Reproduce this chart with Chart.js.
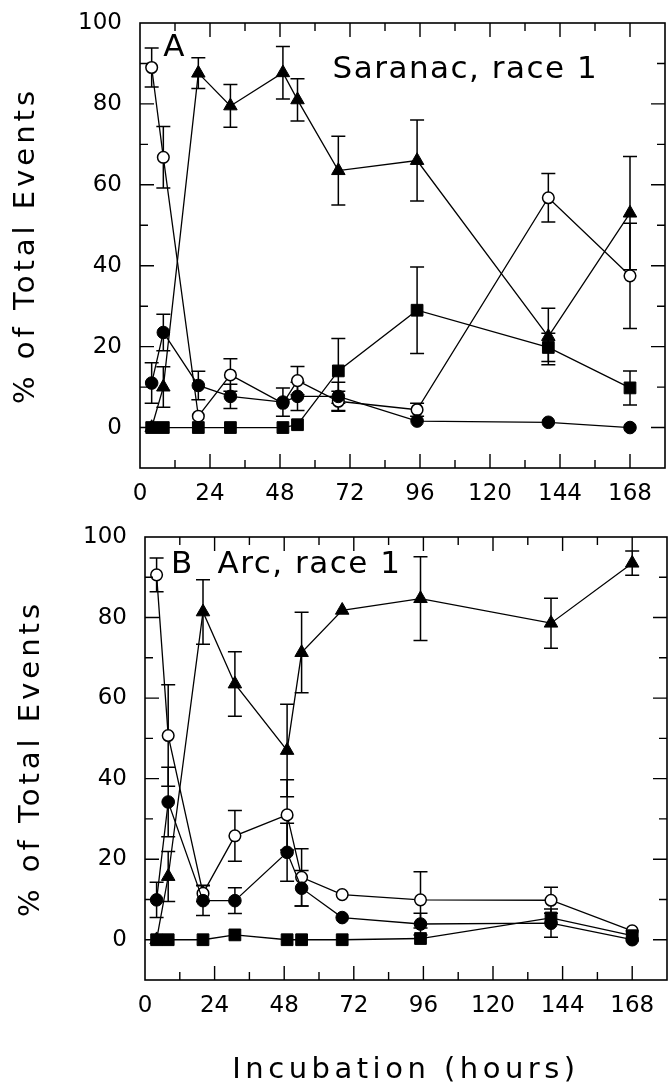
<!DOCTYPE html>
<html>
<head>
<meta charset="utf-8">
<script src="https://cdn.jsdelivr.net/npm/chart.js@4.4.1/dist/chart.umd.min.js"></script>
<style>
  body { margin: 0; background: #fff; width: 668px; height: 1088px; position: relative; overflow: hidden; }
  canvas { position: absolute; left: 0; }
  #chartA { top: 0; }
  #chartB { top: 500px; }
</style>
</head>
<body>
<canvas id="chartA" width="668" height="530"></canvas>
<canvas id="chartB" width="668" height="588"></canvas>
<script>
// sampling times (hours of incubation)
const hours = [4, 8, 20, 31, 49, 54, 68, 95, 140, 168];

// axis ticks
const xTicks = [0, 24, 48, 72, 96, 120, 144, 168];
const xMinor = [12, 36, 60, 84, 108, 132, 156];
const yTicks = [0, 20, 40, 60, 80, 100];
const yMinor = [10, 30, 50, 70, 90];

// panel A - Saranac, race 1
const openA = [89, 66.8, 2.8, 13, 6, 11.6, 6.5, 4.4, 56.8, 37.5];
const openErrA = [4.8, 7.6, 0, 4, 0, 3.5, 2.5, 1.6, 6, 13];
const filledA = [11, 23.5, 10.4, 7.7, 6.3, 7.7, 7.7, 1.6, 1.3, 0];
const filledErrA = [5, 4.5, 3.5, 3, 3.5, 3.5, 3.5, 0, 0, 0];
const triA = [0, 10, 87.6, 79.5, 87.7, 81, 63.5, 66, 22.5, 53];
const triErrA = [0, 5, 3.8, 5.3, 6.5, 5.2, 8.5, 10, 7, 14];
const squareA = [0, 0, 0, 0, 0, 0.7, 14, 29, 19.8, 9.8];
const squareErrA = [0, 0, 0, 0, 0, 0, 8, 10.7, 3.5, 4.2];

// panel B - Arc, race 1
const openB = [90.6, 50.7, 11.5, 25.8, 31, 15.5, 11.2, 9.9, 9.8, 2.2];
const openErrB = [4.2, 12.6, 2, 6.3, 8.7, 7.1, 0, 7, 3.2, 0];
const filledB = [9.9, 34.2, 9.7, 9.7, 21.7, 12.8, 5.5, 3.9, 4.1, 0];
const filledErrB = [4.4, 8.6, 3.7, 3.2, 7.2, 4.4, 0, 2.7, 3.5, 0];
const triB = [0, 15.7, 81.4, 63.5, 47, 71.3, 81.8, 84.7, 78.6, 93.5];
const triErrB = [0, 6.2, 8, 8, 11.5, 10, 0, 10.4, 6.2, 3];
const squareB = [0, 0, 0, 1.2, 0, 0, 0, 0.3, 5.4, 1];
const squareErrB = [0, 0, 0, 0, 0, 0, 0, 0, 0, 0];

const FONT = "'DejaVu Sans', sans-serif";
const Y_TITLE = '% of Total Events';
const X_TITLE = 'Incubation (hours)';

// marker looks for each treatment
const looks = {
  open:   { pointStyle: 'circle',   pointRadius: 5.8, pointBackgroundColor: '#fff', pointBorderWidth: 1.5 },
  filled: { pointStyle: 'circle',   pointRadius: 6.3, pointBackgroundColor: '#000', pointBorderWidth: 1 },
  tri:    { pointStyle: 'triangle', pointRadius: 7.8, pointBackgroundColor: '#000', pointBorderWidth: 1 },
  square: { pointStyle: 'rect',     pointRadius: 8.3, pointBackgroundColor: '#000', pointBorderWidth: 1 }
};

function series(values, errors, look) {
  return Object.assign({
    data: hours.map((h, i) => ({ x: h, y: values[i] })),
    errors: errors,
    borderColor: '#000',
    borderWidth: 1.3,
    pointBorderColor: '#000',
    pointHoverRadius: 6,
    tension: 0,
    fill: false
  }, looks[look]);
}

// error bars with caps, drawn under the markers
const errorBars = {
  id: 'errorBars',
  beforeDatasetsDraw(chart) {
    const { ctx, scales: { x, y } } = chart;
    ctx.save();
    ctx.strokeStyle = '#000';
    ctx.lineWidth = 1.5;
    chart.data.datasets.forEach(ds => {
      ds.data.forEach((p, i) => {
        const e = ds.errors[i];
        if (!e) return;
        const px = x.getPixelForValue(p.x);
        const top = y.getPixelForValue(p.y + e);
        const bot = y.getPixelForValue(p.y - e);
        ctx.beginPath();
        ctx.moveTo(px, top); ctx.lineTo(px, bot);
        ctx.moveTo(px - 7, top); ctx.lineTo(px + 7, top);
        ctx.moveTo(px - 7, bot); ctx.lineTo(px + 7, bot);
        ctx.stroke();
      });
    });
    ctx.restore();
  }
};

// box frame with inward ticks on all four sides, axis titles and panel text
const frame = {
  id: 'frame',
  afterDraw(chart, args, opts) {
    const { ctx, chartArea: a, scales: { x, y } } = chart;
    ctx.save();
    ctx.strokeStyle = '#000';
    ctx.lineWidth = 1.6;
    ctx.strokeRect(a.left, a.top, a.right - a.left, a.bottom - a.top);
    ctx.lineWidth = 1.4;
    ctx.beginPath();
    const xt = (v, len) => {
      const px = x.getPixelForValue(v);
      ctx.moveTo(px, a.bottom); ctx.lineTo(px, a.bottom - len);
      ctx.moveTo(px, a.top); ctx.lineTo(px, a.top + len);
    };
    const yt = (v, len) => {
      const py = y.getPixelForValue(v);
      ctx.moveTo(a.left, py); ctx.lineTo(a.left + len, py);
      ctx.moveTo(a.right, py); ctx.lineTo(a.right - len, py);
    };
    xTicks.filter(v => v > 0).forEach(v => xt(v, 14));
    xMinor.forEach(v => xt(v, 8));
    yTicks.filter(v => v < 100).forEach(v => yt(v, 14));
    yMinor.forEach(v => yt(v, 8));
    ctx.stroke();

    ctx.fillStyle = '#000';
    ctx.textBaseline = 'middle';

    // panel labels
    ctx.textAlign = 'left';
    ctx.font = '31px ' + FONT;
    ctx.letterSpacing = '1.5px';
    opts.labels.forEach(l => {
      ctx.fillText(l.text, x.getPixelForValue(l.x), y.getPixelForValue(l.y));
    });

    // axis titles
    ctx.textAlign = 'center';
    ctx.font = '29px ' + FONT;
    ctx.letterSpacing = '4px';
    ctx.save();
    ctx.translate(a.left - 114, (a.top + a.bottom) / 2);
    ctx.rotate(-Math.PI / 2);
    ctx.fillText(Y_TITLE, 0, 0);
    ctx.restore();
    if (opts.xTitle) {
      ctx.letterSpacing = '4.5px';
      ctx.fillText(X_TITLE, (a.left + a.right) / 2, a.bottom + 90);
    }
    ctx.restore();
  }
};

function makeChart(id, sets, cfg) {
  return new Chart(document.getElementById(id), {
    type: 'line',
    data: { datasets: sets },
    options: {
      responsive: false,
      animation: false,
      layout: { padding: cfg.padding, autoPadding: false },
      plugins: {
        legend: { display: false },
        tooltip: { enabled: false },
        frame: { labels: cfg.labels, xTitle: cfg.xTitle }
      },
      scales: {
        x: {
          type: 'linear', min: 0, max: 180,
          grid: { display: false, drawTicks: false },
          border: { display: false },
          afterBuildTicks: s => { s.ticks = xTicks.map(v => ({ value: v })); },
          afterFit: s => { s.height = cfg.xHeight; s.paddingLeft = 0; s.paddingRight = 0; },
          ticks: { autoSkip: false, maxRotation: 0, padding: 12, color: '#000', font: { family: FONT, size: 23 } }
        },
        y: {
          min: -10, max: 100,
          grid: { display: false, drawTicks: false },
          border: { display: false },
          afterBuildTicks: s => { s.ticks = yTicks.map(v => ({ value: v })); },
          afterFit: s => { s.width = cfg.yWidth; s.paddingTop = 0; s.paddingBottom = 0; },
          ticks: { autoSkip: false, padding: 18, color: '#000', font: { family: FONT, size: 23 } }
        }
      }
    },
    plugins: [errorBars, frame]
  });
}

makeChart('chartA', [
  series(filledA, filledErrA, 'filled'),
  series(squareA, squareErrA, 'square'),
  series(triA, triErrA, 'tri'),
  series(openA, openErrA, 'open')
], {
  padding: { top: 23, right: 3, bottom: 0, left: 0 },
  xHeight: 62, yWidth: 140, xTitle: false,
  labels: [
    { text: 'A', x: 8, y: 93.8 },
    { text: 'Saranac, race 1', x: 66, y: 88.4 }
  ]
});

makeChart('chartB', [
  series(filledB, filledErrB, 'filled'),
  series(squareB, squareErrB, 'square'),
  series(triB, triErrB, 'tri'),
  series(openB, openErrB, 'open')
], {
  padding: { top: 37, right: 1, bottom: 0, left: 0 },
  xHeight: 108, yWidth: 145, xTitle: true,
  labels: [
    { text: 'B', x: 9, y: 93 },
    { text: 'Arc, race 1', x: 25, y: 93 }
  ]
});
</script>
</body>
</html>
